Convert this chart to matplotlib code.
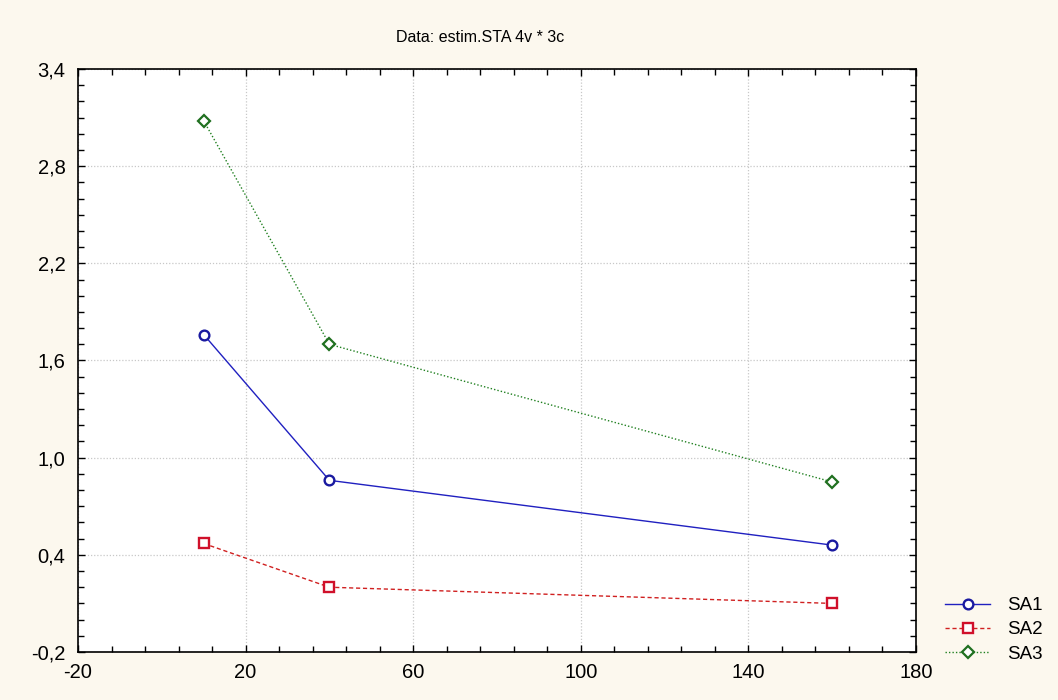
import matplotlib
matplotlib.use("Agg")
import matplotlib.pyplot as plt
import numpy as np
from matplotlib.ticker import FixedLocator, FuncFormatter

x_vals = [10, 40, 160]
sa1 = [1.76, 0.86, 0.46]
sa2 = [0.47, 0.20, 0.10]
sa3 = [3.08, 1.70, 0.85]
series_names = ["SA1", "SA2", "SA3"]
title = "Data: estim.STA 4v * 3c"
x_ticks = [-20, 20, 60, 100, 140, 180]
y_ticks = [-0.2, 0.4, 1.0, 1.6, 2.2, 2.8, 3.4]

plt.rcParams['font.family'] = ['Liberation Sans', 'DejaVu Sans']
bg = "#fcf8ee"
fig = plt.figure(figsize=(10.58, 7.0), dpi=100, facecolor=bg)
ax = fig.add_axes([78/1058, 1 - 652/700, (916-78)/1058, (652-69)/700])
ax.set_facecolor("white")

ax.plot(x_vals, sa1, color="#2020c0", lw=1.0, ls="-", marker="o", ms=7,
        mfc="white", mec="#1a1aa0", mew=1.7, label=series_names[0])
ax.plot(x_vals, sa2, color="#d02020", lw=1.0, ls=(0, (3, 2)), marker="s", ms=7,
        mfc="white", mec="#d0102a", mew=1.7, label=series_names[1])
ax.plot(x_vals, sa3, color="#208020", lw=1.0, ls=(0, (1, 1.5)), marker="D", ms=6,
        mfc="white", mec="#207020", mew=1.6, label=series_names[2])

ax.set_xlim(-20, 180)
ax.set_ylim(-0.2, 3.4)
ax.xaxis.set_major_locator(FixedLocator(x_ticks))
ax.xaxis.set_minor_locator(FixedLocator(np.arange(-20, 181, 8)))
ax.yaxis.set_major_locator(FixedLocator(y_ticks))
ax.yaxis.set_minor_locator(FixedLocator(np.round(np.arange(-0.2, 3.41, 0.1), 2)))

ax.xaxis.set_major_formatter(FuncFormatter(lambda v, p: f"{int(round(v))}"))
ax.yaxis.set_major_formatter(FuncFormatter(lambda v, p: f"{v:.1f}".replace(".", ",")))
ax.tick_params(which="both", direction="in", top=True, right=True, labelsize=14.5, color="black")
ax.tick_params(which="major", length=5, width=1)
ax.tick_params(which="minor", length=4, width=1)
ax.tick_params(axis="x", pad=8)
ax.tick_params(axis="y", pad=9)
ax.grid(True, which="major", color="#c8c8c8", ls=(0, (1, 1.5)), lw=0.9)
for s in ax.spines.values():
    s.set_linewidth(1.2)

fig.text(480/1058, 1 - 37/700, title, ha="center", va="center", fontsize=11.5)

leg = fig.legend(loc="upper left", bbox_to_anchor=(945/1058, 1 - 597/700), frameon=False,
                 fontsize=13.5, handlelength=2.4, labelspacing=0.38, handletextpad=0.9,
                 borderpad=0, borderaxespad=0)

fig.savefig("out.png", dpi=100, facecolor=bg)
